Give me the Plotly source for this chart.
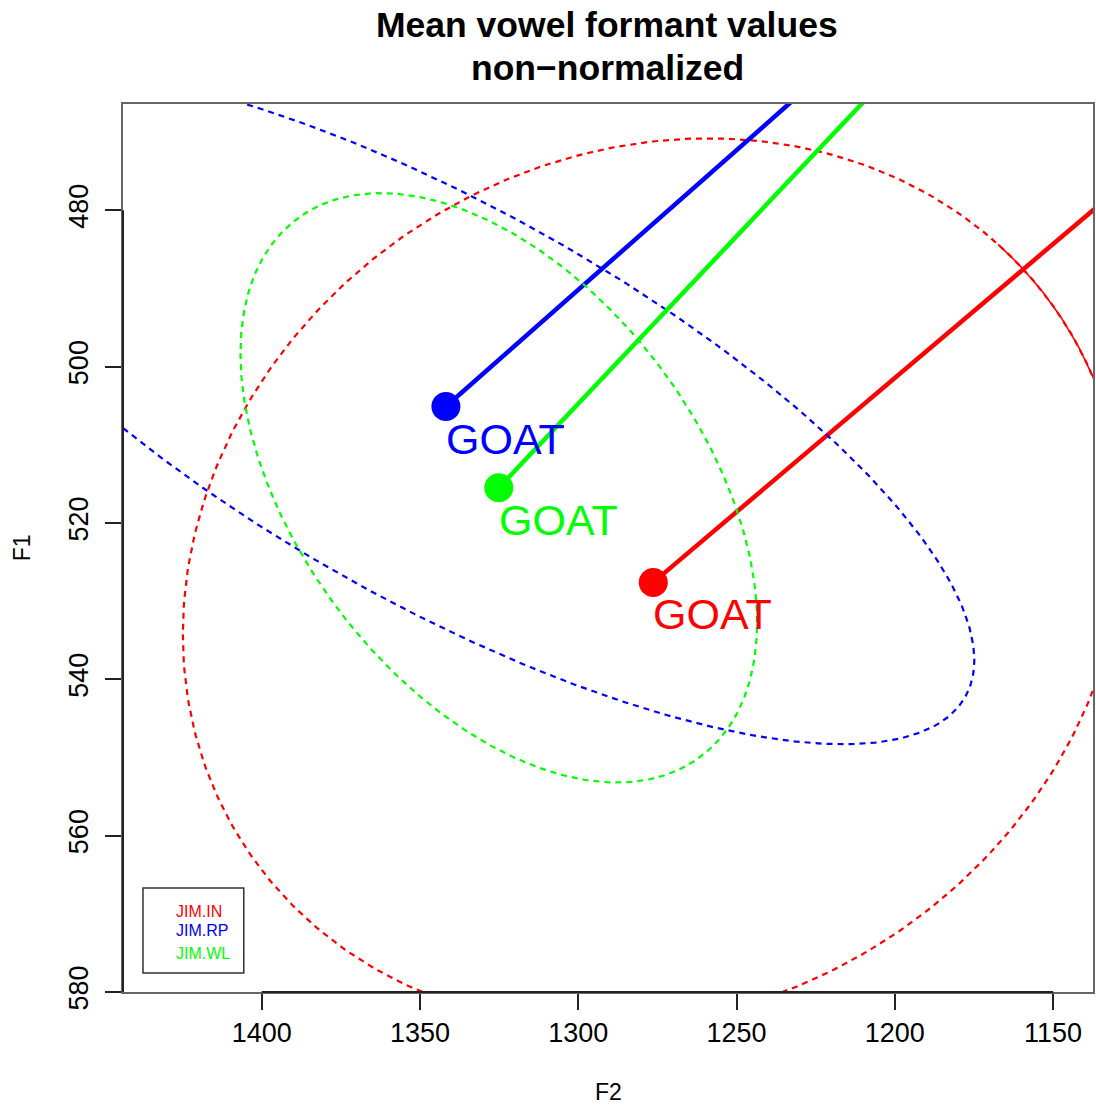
import numpy as np
import plotly.graph_objects as go

# Speakers and their plotting colours
speakers = ["JIM.IN", "JIM.RP", "JIM.WL"]
colors = ["#FF0000", "#0000FF", "#00FF00"]
vowel = "GOAT"

# Mean formant values (Hz) of the GOAT vowel per speaker
f2_mean = [1276.3, 1341.8, 1325.1]
f1_mean = [527.6, 505.1, 515.5]

# Glide target of each trajectory (Hz)
f2_glide = [1020.7, 1159.6, 1148.9]
f1_glide = [440.0, 440.0, 440.0]

# Ellipse spread: half-extent along F2, along F1, and F2/F1 correlation
f2_spread = [148.6, 166.9, 81.6]
f1_spread = [56.8, 43.2, 37.7]
f2f1_corr = [0.117, -0.751, -0.457]

# Axis ticks
f2_ticks = [1400, 1350, 1300, 1250, 1200, 1150]
f1_ticks = [480, 500, 520, 540, 560, 580]

FONT = "Liberation Sans, Arial, Helvetica, sans-serif"


def ellipse(cx, cy, sx, sy, rho, n=400):
    t = np.linspace(0, 2 * np.pi, n)
    dx = sx * np.cos(t)
    dy = sy * (rho * np.cos(t) + np.sqrt(1 - rho ** 2) * np.sin(t))
    return cx + dx, cy + dy


fig = go.Figure()
annotations = []

for i, spk in enumerate(speakers):
    col = colors[i]
    ex, ey = ellipse(f2_mean[i], f1_mean[i], f2_spread[i], f1_spread[i], f2f1_corr[i])
    fig.add_trace(go.Scatter(
        x=ex, y=ey, mode="lines", showlegend=False, hoverinfo="skip",
        line=dict(color=col, width=2.2, dash="6px,5px"),
    ))
    if i == 0:
        # the upper-right stretch of this ellipse renders as a continuous stroke
        keep = (ex <= 1168) & (ey < f1_mean[i])
        fig.add_trace(go.Scatter(
            x=np.where(keep, ex, None), y=np.where(keep, ey, None),
            mode="lines", showlegend=False, hoverinfo="skip",
            line=dict(color=col, width=1.6),
        ))
    fig.add_trace(go.Scatter(
        x=[f2_mean[i], f2_glide[i]], y=[f1_mean[i], f1_glide[i]],
        mode="lines", showlegend=False, hoverinfo="skip",
        line=dict(color=col, width=4.5),
    ))
    fig.add_trace(go.Scatter(
        x=[f2_mean[i]], y=[f1_mean[i]], mode="markers", name=spk,
        showlegend=False,
        marker=dict(color=col, size=29, line=dict(width=0)),
    ))
    annotations.append(dict(
        x=f2_mean[i], y=f1_mean[i], xref="x", yref="y",
        text=vowel, showarrow=False, xanchor="left", yanchor="middle",
        yshift=-32, xshift=-2,
        font=dict(family=FONT, size=43, color=col),
    ))

# Title
annotations.append(dict(
    x=0.499, y=1.089, xref="paper", yref="paper", showarrow=False,
    text="<b>Mean vowel formant values</b>", xanchor="center", yanchor="middle",
    font=dict(family=FONT, size=35.5, color="black"),
))
annotations.append(dict(
    x=0.499, y=1.0405, xref="paper", yref="paper", showarrow=False,
    text="<b>non\u2212normalized</b>", xanchor="center", yanchor="middle",
    font=dict(family=FONT, size=35.5, color="black"),
))
# Axis titles
annotations.append(dict(
    x=0.5, y=-0.1126, xref="paper", yref="paper", showarrow=False,
    text="F2", xanchor="center", yanchor="middle",
    font=dict(family=FONT, size=23, color="black"),
))
annotations.append(dict(
    x=-0.1039, y=0.5, xref="paper", yref="paper", showarrow=False,
    text="F1", xanchor="center", yanchor="middle", textangle=-90,
    font=dict(family=FONT, size=23, color="black"),
))

# Legend entries (text only)
legend_y = [0.0912, 0.0687, 0.0439]
for i, spk in enumerate(speakers):
    annotations.append(dict(
        x=0.0525, y=legend_y[i], xref="paper", yref="paper", showarrow=False,
        text=spk, xanchor="left", yanchor="middle",
        font=dict(family=FONT, size=16, color=colors[i]),
    ))

shapes = [
    # legend box
    dict(type="rect", xref="paper", yref="paper", x0=0.0206, x1=0.1245,
         y0=0.0214, y1=0.1171, line=dict(color="#333333", width=1.5)),
    # axis lines spanning the tick range
    dict(type="line", xref="x", yref="paper", x0=f2_ticks[0], x1=f2_ticks[-1],
         y0=0, y1=0, line=dict(color="#222222", width=2)),
    dict(type="line", xref="paper", yref="y", x0=0, x1=0,
         y0=f1_ticks[0], y1=f1_ticks[-1], line=dict(color="#222222", width=2)),
]

fig.update_layout(
    width=1096, height=1108,
    margin=dict(l=123, r=1, t=104, b=116),
    paper_bgcolor="white", plot_bgcolor="white",
    showlegend=False,
    annotations=annotations,
    shapes=shapes,
    font=dict(family=FONT, color="black"),
)
fig.update_xaxes(
    range=[1443.8, 1137.4], tickvals=f2_ticks, ticktext=[str(v) for v in f2_ticks],
    showgrid=False, zeroline=False, showline=True, mirror=True,
    linecolor="#666666", linewidth=1.5,
    ticks="outside", ticklen=16, tickwidth=1.5, tickcolor="#222222",
    tickfont=dict(family=FONT, size=27, color="black"),
)
fig.update_yaxes(
    range=[580, 466.4], tickvals=f1_ticks, ticktext=[str(v) for v in f1_ticks],
    showgrid=False, zeroline=False, showline=True, mirror=True,
    linecolor="#666666", linewidth=1.5,
    ticks="outside", ticklen=16, tickwidth=1.5, tickcolor="#222222",
    tickangle=-90, ticklabelstandoff=6,
    tickfont=dict(family=FONT, size=27, color="black"),
)

fig.write_html("out.html")
